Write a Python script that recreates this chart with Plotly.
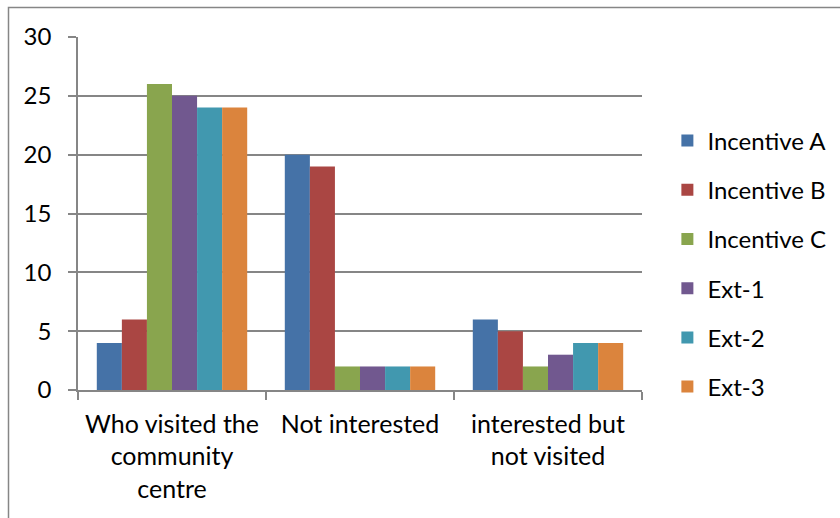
import plotly.graph_objects as go

categories = ["Who visited the<br>community<br>centre", "Not interested", "interested but<br>not visited"]
series_names = ["Incentive A", "Incentive B", "Incentive C", "Ext-1", "Ext-2", "Ext-3"]
incentive_a = [4, 20, 6]
incentive_b = [6, 19, 5]
incentive_c = [26, 2, 2]
ext_1 = [25, 2, 3]
ext_2 = [24, 2, 4]
ext_3 = [24, 2, 4]
series_values = [incentive_a, incentive_b, incentive_c, ext_1, ext_2, ext_3]
colors = ["#4572A7", "#AA4643", "#89A54E", "#71588F", "#4198AF", "#DB843D"]
y_ticks = [0, 5, 10, 15, 20, 25, 30]

FONT = "Lato"
GRAY = "#868686"
FS = 24

fig = go.Figure()
for name, vals, col in zip(series_names, series_values, colors):
    fig.add_trace(go.Bar(
        x=categories, y=vals, name=name, legendgroup=name,
        marker=dict(color=col, line=dict(width=0)),
    ))

fig.update_layout(
    width=840, height=518,
    margin=dict(l=78, r=198, t=37, b=128, autoexpand=False),
    paper_bgcolor="white", plot_bgcolor="white",
    barmode="group", bargap=0.2, bargroupgap=0,
    font=dict(family=FONT, size=FS, color="black"),
    legend=dict(
        x=1.045, xanchor="left", y=0.357, yanchor="middle",
        font=dict(family=FONT, size=FS, color="black"),
        tracegroupgap=15, itemwidth=30,
        bgcolor="rgba(0,0,0,0)",
    ),
    showlegend=True,
)
fig.update_yaxes(
    range=[0, 30], tickvals=y_ticks, ticktext=[str(v) for v in y_ticks],
    showgrid=True, gridcolor=GRAY, gridwidth=1.5,
    showline=True, linecolor=GRAY, linewidth=1.5,
    ticks="outside", ticklen=8, tickcolor=GRAY, tickwidth=1.5,
    ticklabelstandoff=12, zeroline=False, automargin=False,
    tickfont=dict(family=FONT, size=FS, color="black"),
)
fig.update_xaxes(
    showline=True, linecolor=GRAY, linewidth=1.5,
    ticks="outside", ticklen=8, tickcolor=GRAY, tickwidth=1.5,
    tickson="boundaries", showgrid=False, automargin=False,
    ticklabelstandoff=11,
    tickfont=dict(family=FONT, size=25, color="black"),
)
fig.add_shape(
    type="rect", xref="paper", yref="paper",
    x0=(8.5 - 78) / 564, x1=(850 - 78) / 564,
    y0=(390 - 530) / 353, y1=(390 - 7.5) / 353,
    line=dict(color=GRAY, width=1.5), fillcolor="rgba(0,0,0,0)", layer="below",
)

fig.write_html("out.html")
